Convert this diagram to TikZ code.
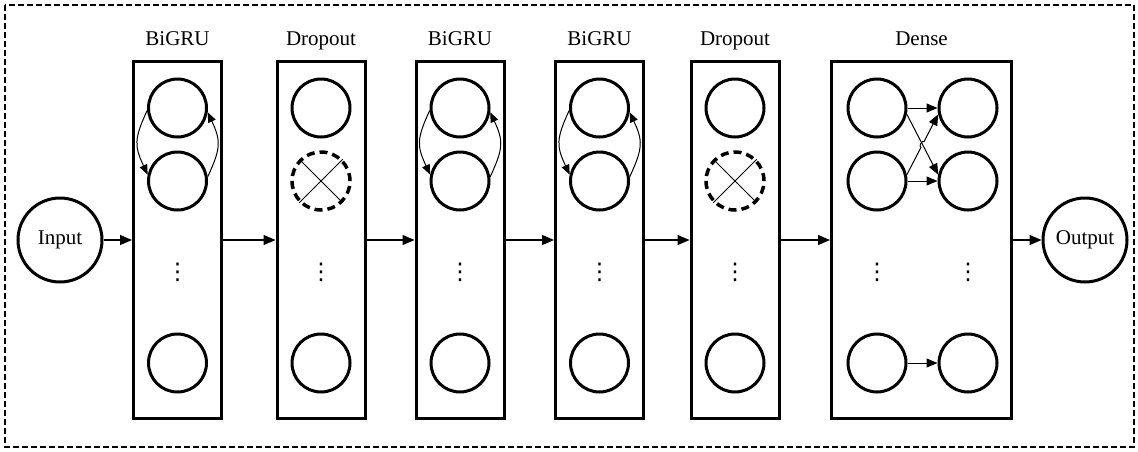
\documentclass[tikz,border=0pt]{standalone}
\usepackage{fontspec}
\setmainfont{Liberation Serif}
\newfontfamily\dotsfont{DejaVu Sans}
\usetikzlibrary{arrows.meta,calc}

\begin{document}
\begin{tikzpicture}[x=1pt,y=-1pt,
  layer/.style={draw, line width=3pt, minimum width=88pt, minimum height=357pt, inner sep=0pt},
  unit/.style={draw, circle, line width=3pt, minimum size=58pt, inner sep=0pt},
  dropunit/.style={draw, circle, line width=3.5pt, dash pattern=on 8pt off 5pt, minimum size=58pt, inner sep=0pt},
  io/.style={draw, circle, line width=3pt, minimum size=84pt, inner sep=0pt, font=\fontsize{21}{25}\selectfont},
  title/.style={anchor=base, font=\fontsize{21}{25}\selectfont},
  flow/.style={line width=1.2pt, -{Triangle[length=12pt,width=10pt]}},
  rec/.style={line width=1pt, -{Triangle[length=10pt,width=8pt]}},
  link/.style={line width=1pt, -{Triangle[length=11pt,width=9pt]}},
  cross/.style={line width=1pt},
  ellip/.style={font=\dotsfont\fontsize{23}{27}\selectfont, inner sep=0pt}
]
\useasboundingbox (0,0) rectangle (1138,451);

% outer frame
\draw[line width=2.2pt, dash pattern=on 6pt off 3pt] (5,5) rectangle (1134,447);

% input / output
\node[io] (in)  at (60,240)   {Input};
\node[io] (out) at (1085,240) {Output};

% layer boxes
\node[layer] (L1) at (177.5,240) {};
\node[layer] (L2) at (321,240)   {};
\node[layer] (L3) at (460,240)   {};
\node[layer] (L4) at (599.5,240) {};
\node[layer] (L5) at (735,240)   {};
\node[layer, minimum width=180pt] (L6) at (921.5,240) {};

% titles
\node[title] (t1) at (177.5,45) {BiGRU};
\node[title] (t2) at (321,45)   {Dropout};
\node[title] (t3) at (460,45)   {BiGRU};
\node[title] (t4) at (599.5,45) {BiGRU};
\node[title] (t5) at (735,45)   {Dropout};
\node[title] (t6) at (921.5,45) {Dense};

% BiGRU units with recurrent links
\foreach \n/\x in {1/177.5, 3/460, 4/599.5}{
  \node[unit] (u\n a) at (\x,108) {};
  \node[unit] (u\n b) at (\x,181) {};
  \node[unit] (u\n c) at (\x,363) {};
  \node[ellip] (e\n) at (\x,272) {⋮};
  \draw[rec] (u\n a.185) to[out=245,in=115,looseness=1.25] (u\n b.168);
  \draw[rec] (u\n b.8) to[out=65,in=-65,looseness=1.25] (u\n a.352);
}

% Dropout units
\foreach \n/\x in {2/321, 5/735}{
  \node[unit] (u\n a) at (\x,108) {};
  \node[dropunit] (u\n b) at (\x,181) {};
  \node[unit] (u\n c) at (\x,363) {};
  \node[ellip] (e\n) at (\x,272) {⋮};
  \draw[cross] (u\n b.45) -- (u\n b.225);
  \draw[cross] (u\n b.135) -- (u\n b.-45);
}

% Dense units
\node[unit] (da) at (877,108) {};
\node[unit] (db) at (877,181) {};
\node[unit] (dc) at (877,363) {};
\node[unit] (ea) at (968,108) {};
\node[unit] (eb) at (968,181) {};
\node[unit] (ec) at (968,363) {};
\node[ellip] (dd) at (877,272) {⋮};
\node[ellip] (ed) at (968,272) {⋮};

\draw[link] (da.east) -- (ea.west);
\draw[link] (db.east) -- (eb.west);
\draw[link] (dc.east) -- (ec.west);
\draw[link] (da.-12) -- (eb.168);
\coordinate (hs) at ($(db.12)!0.45!(ea.192)$);
\coordinate (he) at ($(db.12)!0.55!(ea.192)$);
\draw[link] (db.12) -- (hs) to[bend left=90] (he) -- (ea.192);

% data flow between layers
\draw[flow] (in.east) -- (L1.west);
\draw[flow] (L1.east) -- (L2.west);
\draw[flow] (L2.east) -- (L3.west);
\draw[flow] (L3.east) -- (L4.west);
\draw[flow] (L4.east) -- (L5.west);
\draw[flow] (L5.east) -- (L6.west);
\draw[flow] (L6.east) -- (out.west);
\end{tikzpicture}
\end{document}
